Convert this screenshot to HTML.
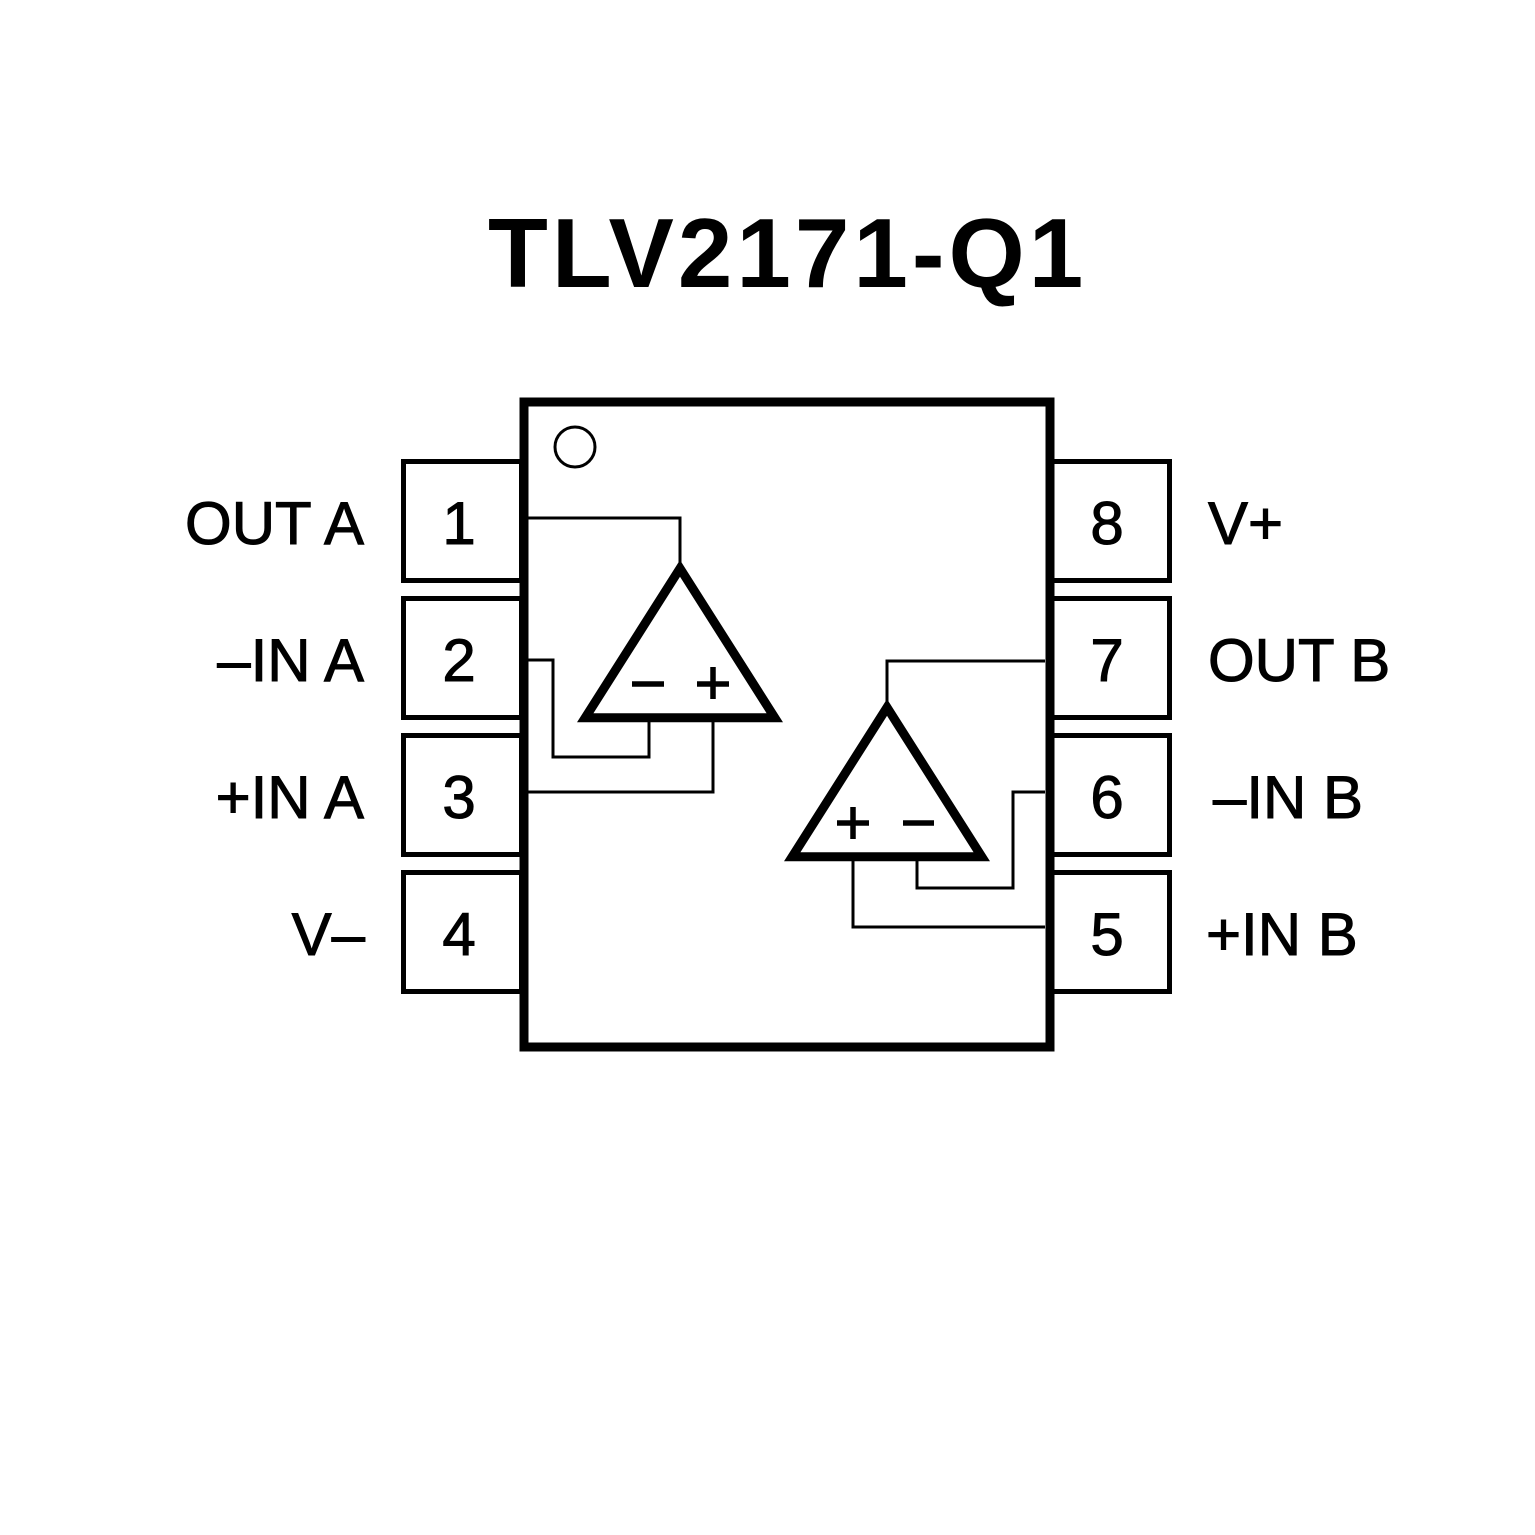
<!DOCTYPE html>
<html>
<head>
<meta charset="utf-8">
<style>
  html, body { margin: 0; padding: 0; background: #ffffff; }
  body { width: 1535px; height: 1535px; overflow: hidden; }
  svg { display: block; }
  .lbl { font-family: "Liberation Sans", Arial, sans-serif; font-size: 60px; fill: #000; stroke: #000; stroke-width: 1; }
  .ttl { font-family: "Liberation Sans", Arial, sans-serif; font-size: 98px; font-weight: bold; fill: #000; letter-spacing: 4px; }
</style>
</head>
<body>
<svg width="1535" height="1535" viewBox="0 0 1535 1535" xmlns="http://www.w3.org/2000/svg">
  <rect x="0" y="0" width="1535" height="1535" fill="#fff"/>

  <!-- Title -->
  <text class="ttl" x="488" y="287">TLV2171-Q1</text>

  <!-- Left pins -->
  <g fill="none" stroke="#000" stroke-width="5">
    <rect x="403.5" y="461.5" width="118" height="119"/>
    <rect x="403.5" y="598.5" width="118" height="119"/>
    <rect x="403.5" y="735.5" width="118" height="119"/>
    <rect x="403.5" y="872.5" width="118" height="119"/>
    <!-- Right pins -->
    <rect x="1052" y="461.5" width="117.5" height="119"/>
    <rect x="1052" y="598.5" width="117.5" height="119"/>
    <rect x="1052" y="735.5" width="117.5" height="119"/>
    <rect x="1052" y="872.5" width="117.5" height="119"/>
  </g>

  <!-- Main body -->
  <rect x="524" y="402" width="526" height="645" fill="#fff" stroke="#000" stroke-width="9"/>

  <!-- Pin 1 dot -->
  <circle cx="575" cy="447" r="20" fill="none" stroke="#000" stroke-width="3"/>

  <!-- Wires -->
  <g fill="none" stroke="#000" stroke-width="3" stroke-linejoin="miter">
    <polyline points="528,518 680,518 680,568"/>
    <polyline points="528,660 553,660 553,757 649,757 649,718"/>
    <polyline points="713,718 713,792 528,792"/>
    <polyline points="887,707 887,661 1045,661"/>
    <polyline points="917,857 917,888 1013,888 1013,792 1045,792"/>
    <polyline points="853,857 853,927 1045,927"/>
  </g>

  <!-- Op-amp A -->
  <polygon points="680,568.4 585.2,717.8 774.8,717.8" fill="#fff" stroke="#000" stroke-width="9" stroke-linejoin="miter"/>
  <g stroke="#000" stroke-width="5.5" fill="none">
    <line x1="632" y1="684" x2="664" y2="684"/>
    <line x1="697" y1="684" x2="729" y2="684"/>
    <line x1="713" y1="667" x2="713" y2="699"/>
  </g>

  <!-- Op-amp B -->
  <polygon points="887,707.4 792.2,856.8 981.8,856.8" fill="#fff" stroke="#000" stroke-width="9" stroke-linejoin="miter"/>
  <g stroke="#000" stroke-width="5.5" fill="none">
    <line x1="837" y1="823" x2="869" y2="823"/>
    <line x1="853" y1="807" x2="853" y2="839"/>
    <line x1="903" y1="823" x2="934" y2="823"/>
  </g>

  <!-- Pin numbers -->
  <g class="lbl" text-anchor="middle">
    <text x="459" y="544">1</text>
    <text x="459" y="681">2</text>
    <text x="459" y="818">3</text>
    <text x="459" y="955">4</text>
    <text x="1107" y="544">8</text>
    <text x="1107" y="681">7</text>
    <text x="1107" y="818">6</text>
    <text x="1107" y="955">5</text>
  </g>

  <!-- Left labels -->
  <g class="lbl" text-anchor="end">
    <text x="364" y="544">OUT A</text>
    <text x="364" y="681">–IN A</text>
    <text x="364" y="818">+IN A</text>
    <text x="365" y="955">V–</text>
  </g>

  <!-- Right labels -->
  <g class="lbl">
    <text x="1208" y="544">V+</text>
    <text x="1208" y="681">OUT B</text>
    <text x="1213" y="818">–IN B</text>
    <text x="1206" y="955">+IN B</text>
  </g>
</svg>
</body>
</html>
